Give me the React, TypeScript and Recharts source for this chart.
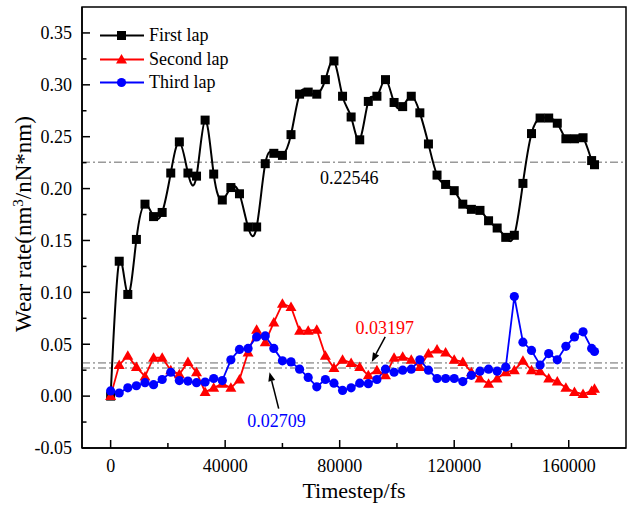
import {
  Legend,
  Line,
  LineChart,
  ReferenceArea,
  ReferenceDot,
  ReferenceLine,
  XAxis,
  YAxis,
} from "recharts";

// timestep (fs) of every sample
const timesteps = [
  0, 3000, 6000, 9000, 12000, 15000, 18000, 21000, 24000, 27000,
  30000, 33000, 36000, 39000, 42000, 45000, 48000, 51000, 54000, 57000,
  60000, 63000, 66000, 69000, 72000, 75000, 78000, 81000, 84000, 87000,
  90000, 93000, 96000, 99000, 102000, 105000, 108000, 111000, 114000, 117000,
  120000, 123000, 126000, 129000, 132000, 135000, 138000, 141000, 144000, 147000,
  150000, 153000, 156000, 159000, 162000, 165000, 168000, 169000,
];

const firstLap = [
  0.0, 0.13, 0.098, 0.151, 0.185, 0.173, 0.177, 0.215, 0.245, 0.215,
  0.212, 0.266, 0.214, 0.189, 0.201, 0.195, 0.163, 0.163, 0.224, 0.234,
  0.232, 0.252, 0.291, 0.293, 0.291, 0.305, 0.323, 0.289, 0.269, 0.247,
  0.284, 0.289, 0.305, 0.283, 0.279, 0.289, 0.273, 0.243, 0.213, 0.204,
  0.198, 0.185, 0.18, 0.179, 0.169, 0.162, 0.153, 0.155, 0.205, 0.253,
  0.268, 0.268, 0.263, 0.248, 0.248, 0.249, 0.227, 0.223,
];

const secondLap = [
  0.0, 0.03, 0.039, 0.028, 0.019, 0.037, 0.037, 0.025, 0.021, 0.033,
  0.023, 0.004, 0.008, 0.012, 0.008, 0.016, 0.042, 0.064, 0.052, 0.071,
  0.089, 0.086, 0.063, 0.063, 0.064, 0.039, 0.027, 0.035, 0.032, 0.028,
  0.02, 0.025, 0.02, 0.037, 0.038, 0.035, 0.028, 0.041, 0.045, 0.042,
  0.035, 0.033, 0.023, 0.017, 0.012, 0.017, 0.023, 0.025, 0.034, 0.025,
  0.024, 0.017, 0.014, 0.008, 0.004, 0.002, 0.005, 0.007,
];

const thirdLap = [
  0.005, 0.003, 0.008, 0.01, 0.013, 0.011, 0.016, 0.023, 0.015, 0.0145,
  0.013, 0.0135, 0.017, 0.015, 0.035, 0.045, 0.046, 0.057, 0.058, 0.046,
  0.034, 0.033, 0.026, 0.018, 0.009, 0.016, 0.0125, 0.0055, 0.008, 0.0125,
  0.012, 0.016, 0.026, 0.023, 0.025, 0.026, 0.035, 0.025, 0.017, 0.017,
  0.017, 0.014, 0.02, 0.024, 0.026, 0.024, 0.028, 0.096, 0.052, 0.044,
  0.03, 0.041, 0.035, 0.048, 0.057, 0.062, 0.046, 0.043,
];

const seriesNames = ["First lap", "Second lap", "Third lap"];
const seriesColors = ["#000000", "#ff0000", "#0000ff"];

// average wear rate of each lap
const averages = [0.22546, 0.03197, 0.02709];
const averageLabels = ["0.22546", "0.03197", "0.02709"];

const xTicks = [0, 20000, 40000, 60000, 80000, 100000, 120000, 140000, 160000];
const yTicks = [
  -0.05, -0.025, 0, 0.025, 0.05, 0.075, 0.1, 0.125, 0.15, 0.175, 0.2, 0.225,
  0.25, 0.275, 0.3, 0.325, 0.35,
];

const X_MIN = -10000;
const X_MAX = 180000;
const Y_MIN = -0.05;
const Y_MAX = 0.375;

const data = timesteps.map((t, i) => ({
  t,
  first: firstLap[i],
  second: secondLap[i],
  third: thirdLap[i],
}));

const font = '"Liberation Serif", "Times New Roman", serif';

function YTick({ x, y, payload }: any) {
  const v = payload.value;
  const major = Math.abs(Math.round(v * 1000)) % 50 === 0;
  return (
    <g>
      <line x1={x} x2={x + (major ? 8 : 4.5)} y1={y} y2={y} stroke="#000" strokeWidth={1.5} />
      {major && (
        <text x={x - 10} y={y} dy="0.35em" textAnchor="end" fontSize={18} fontFamily={font} fill="#000">
          {v.toFixed(2)}
        </text>
      )}
    </g>
  );
}

function XTick({ x, y, payload }: any) {
  const v = payload.value;
  const major = v % 40000 === 0;
  return (
    <g>
      <line x1={x} x2={x} y1={y} y2={y - (major ? 8 : 5)} stroke="#000" strokeWidth={1.5} />
      {major && (
        <text x={x} y={y + 18} dy="0.35em" textAnchor="middle" fontSize={18} fontFamily={font} fill="#000">
          {v}
        </text>
      )}
    </g>
  );
}

function Square({ cx, cy, index }: any) {
  return <rect key={`s${index}`} x={cx - 4.5} y={cy - 4.5} width={9} height={9} fill="#000" />;
}

function Triangle({ cx, cy, index }: any) {
  return (
    <polygon
      key={`t${index}`}
      points={`${cx},${cy - 5.5} ${cx - 5.5},${cy + 4} ${cx + 5.5},${cy + 4}`}
      fill="#ff0000"
    />
  );
}

function Circle({ cx, cy, index }: any) {
  return <circle key={`c${index}`} cx={cx} cy={cy} r={4.6} fill="#0000ff" />;
}

function Arrow({ x1, y1, x2, y2 }: any) {
  const a = Math.atan2(y2 - y1, x2 - x1);
  const len = 9;
  const half = 3.5;
  const bx = x2 - len * Math.cos(a);
  const by = y2 - len * Math.sin(a);
  const pts = [
    [x2, y2],
    [bx - half * Math.sin(a), by + half * Math.cos(a)],
    [bx + half * Math.sin(a), by - half * Math.cos(a)],
  ]
    .map((p) => p.join(","))
    .join(" ");
  return (
    <g>
      <line x1={x1} y1={y1} x2={bx} y2={by} stroke="#000" strokeWidth={1.5} />
      <polygon points={pts} fill="#000" />
    </g>
  );
}

function LegendBox() {
  const markers = [
    <rect x={17} y={3} width={9} height={9} fill="#000" />,
    <polygon points="21.5,2 16,11.5 27,11.5" fill="#ff0000" />,
    <circle cx={21.5} cy={7.5} r={4.6} fill="#0000ff" />,
  ];
  return (
    <div style={{ fontFamily: font, fontSize: 18, color: "#000" }}>
      {seriesNames.map((name, i) => (
        <div key={name} style={{ display: "flex", alignItems: "center", height: 23.5 }}>
          <svg width={44} height={15}>
            <line x1={0} x2={44} y1={7.5} y2={7.5} stroke={seriesColors[i]} strokeWidth={1.8} />
            {markers[i]}
          </svg>
          <span style={{ marginLeft: 5 }}>{name}</span>
        </div>
      ))}
    </div>
  );
}

export default function App() {
  return (
    <div style={{ width: 630, height: 505, background: "#fff" }}>
      <style>{"body{margin:0;background:#fff}"}</style>
      <LineChart width={630} height={505} data={data} margin={{ top: 7, right: 4, left: 0, bottom: 0 }}>
        <XAxis
          dataKey="t"
          type="number"
          domain={[X_MIN, X_MAX]}
          ticks={xTicks}
          allowDataOverflow
          height={57}
          tickSize={0}
          tickMargin={0}
          tick={<XTick />}
          axisLine={{ stroke: "#000", strokeWidth: 1.5 }}
          tickLine={false}
          label={{
            content: () => (
              <text x={354} y={490} dy="0.35em" textAnchor="middle" fontSize={22} fontFamily={font} fill="#000">
                Timestep/fs
              </text>
            ),
          }}
        />
        <YAxis
          type="number"
          domain={[Y_MIN, Y_MAX]}
          ticks={yTicks}
          allowDataOverflow
          width={82}
          tickSize={0}
          tickMargin={0}
          tick={<YTick />}
          axisLine={{ stroke: "#000", strokeWidth: 1.5 }}
          tickLine={false}
          label={{
            content: () => (
              <text
                x={0}
                y={0}
                transform="translate(23,224) rotate(-90)"
                textAnchor="middle"
                dy="0.35em"
                fontSize={23}
                fontFamily={font}
                fill="#000"
              >
                Wear rate(nm
                <tspan dy={-8} fontSize={15}>3</tspan>
                <tspan dy={8}>/nN*nm)</tspan>
              </text>
            ),
          }}
        />
        <Legend
          layout="vertical"
          align="center"
          verticalAlign="middle"
          wrapperStyle={{ top: 24, left: 100, width: "auto" }}
          content={() => <LegendBox />}
        />
        {averages.map((v) => (
          <ReferenceLine key={v} y={v} stroke="#666" strokeWidth={1} strokeDasharray="8 3 2 3" />
        ))}
        <ReferenceLine
          segment={[
            { x: 95900, y: 0.057 },
            { x: 91200, y: 0.033 },
          ]}
          shape={<Arrow />}
        />
        <ReferenceLine
          segment={[
            { x: 58700, y: -0.012 },
            { x: 55500, y: 0.023 },
          ]}
          shape={<Arrow />}
        />
        <ReferenceDot
          x={83300}
          y={0.211}
          r={0}
          fill="none"
          stroke="none"
          label={{ value: averageLabels[0], position: "center", fill: "#000", fontSize: 18, fontFamily: font }}
        />
        <ReferenceDot
          x={95700}
          y={0.066}
          r={0}
          fill="none"
          stroke="none"
          label={{ value: averageLabels[1], position: "center", fill: "#ff0000", fontSize: 18, fontFamily: font }}
        />
        <ReferenceDot
          x={57900}
          y={-0.024}
          r={0}
          fill="none"
          stroke="none"
          label={{ value: averageLabels[2], position: "center", fill: "#0000ff", fontSize: 18, fontFamily: font }}
        />
        <Line
          dataKey="first"
          name={seriesNames[0]}
          type="natural"
          stroke={seriesColors[0]}
          strokeWidth={2}
          dot={Square}
          isAnimationActive={false}
        />
        <Line
          dataKey="second"
          name={seriesNames[1]}
          type="linear"
          stroke={seriesColors[1]}
          strokeWidth={1.8}
          dot={Triangle}
          isAnimationActive={false}
        />
        <Line
          dataKey="third"
          name={seriesNames[2]}
          type="linear"
          stroke={seriesColors[2]}
          strokeWidth={1.8}
          dot={Circle}
          isAnimationActive={false}
        />
        <ReferenceArea
          x1={X_MIN}
          x2={X_MAX}
          y1={Y_MIN}
          y2={Y_MAX}
          fill="none"
          stroke="#000"
          strokeWidth={1.5}
          fillOpacity={0}
        />
      </LineChart>
    </div>
  );
}
